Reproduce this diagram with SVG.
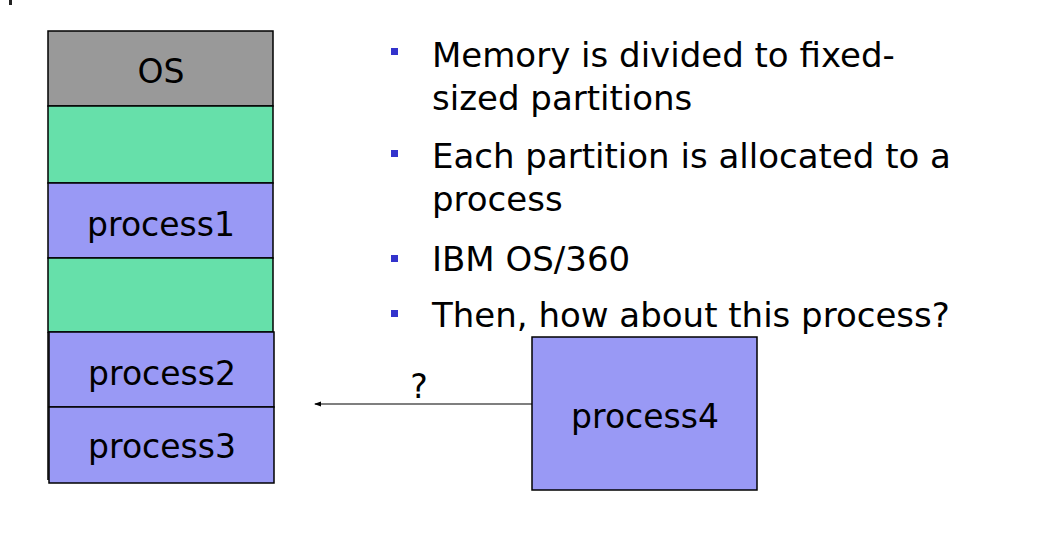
<svg xmlns="http://www.w3.org/2000/svg" width="1050" height="556" viewBox="0 0 1050 556">
<style>
text{font-family:"DejaVu Sans","Verdana",sans-serif;font-size:33px;fill:#000}
.lbl{text-anchor:middle}
.bt{font-size:34px}
.box{stroke:#000;stroke-width:1.5}
.os{fill:#999999}
.free{fill:#66E0AA}
.proc{fill:#9999F5}
.bul{fill:#3333CC}
</style>
<defs>
<marker id="ah" markerWidth="8" markerHeight="6" refX="6" refY="3" orient="auto" markerUnits="userSpaceOnUse">
<path d="M7,3 L0,0.5 L0,5.5 Z" fill="#000"/>
</marker>
</defs>
<rect x="9" y="0" width="3" height="5" fill="#222"/>
<g id="os"><rect class="box os" x="48" y="31" width="225" height="75"/><text class="lbl" x="161" y="83">OS</text></g>
<g id="free1"><rect class="box free" x="48" y="106" width="225" height="77"/></g>
<g id="process1"><rect class="box proc" x="48" y="183" width="225" height="75"/><text class="lbl" x="161" y="236">process1</text></g>
<g id="free2"><rect class="box free" x="48" y="258" width="225" height="74"/><line x1="48" y1="332" x2="48" y2="480" stroke="#000" stroke-width="1.5"/></g>
<g id="process2"><rect class="box proc" x="49" y="332" width="225" height="75"/><text class="lbl" x="162" y="385">process2</text></g>
<g id="process3"><rect class="box proc" x="49" y="407" width="225" height="76"/><text class="lbl" x="162" y="458">process3</text></g>
<g id="process4"><rect class="box proc" x="532" y="337" width="225" height="153"/><text class="lbl" x="645" y="428">process4</text></g>
<g id="connectors">
<line x1="532" y1="404" x2="315" y2="404" stroke="#000" stroke-width="1.2" marker-end="url(#ah)"/>
<text class="lbl" x="419" y="398">?</text>
</g>
<g id="bullets">
<rect class="bul" x="391" y="48" width="7" height="7"/>
<text class="bt" x="432" y="67">Memory is divided to fixed-</text>
<text class="bt" x="432" y="110">sized partitions</text>
<rect class="bul" x="391" y="150" width="7" height="7"/>
<text class="bt" x="432" y="168">Each partition is allocated to a</text>
<text class="bt" x="432" y="211">process</text>
<rect class="bul" x="391" y="255" width="7" height="7"/>
<text class="bt" x="432" y="271">IBM OS/360</text>
<rect class="bul" x="391" y="310" width="7" height="7"/>
<text class="bt" x="432" y="327">Then, how about this process?</text>
</g>
</svg>
